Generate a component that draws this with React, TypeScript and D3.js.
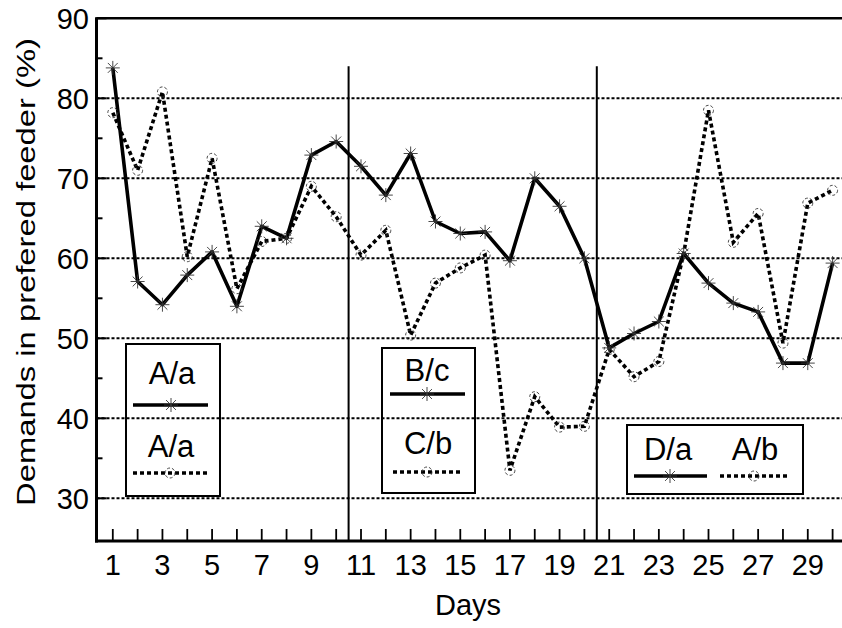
import React from 'react';
import * as d3 from 'd3';

// days 1..30
const DAYS = d3.range(1, 31);
// solid line with asterisks
const SOLID = [
  83.8, 57.1, 54.2, 57.9, 60.8, 54.0, 64.0, 62.5, 72.9, 74.6,
  71.5, 67.9, 73.1, 64.6, 63.1, 63.3, 59.7, 70.0, 66.5, 60.0,
  48.8, 50.6, 52.1, 60.6, 56.9, 54.4, 53.3, 46.9, 46.9, 59.4,
];
// dotted line with circles
const DOTTED = [
  78.2, 71.0, 80.8, 60.2, 72.5, 56.2, 62.1, 62.5, 69.0, 65.2,
  60.4, 63.5, 50.4, 56.9, 58.8, 60.4, 33.5, 42.7, 38.9, 39.0,
  48.6, 45.2, 47.1, 60.6, 78.5, 62.0, 65.6, 49.4, 66.9, 68.5,
];
const Y_MAJOR = [30, 40, 50, 60, 70, 80, 90];
const Y_MINOR = [35, 45, 55, 65, 75, 85];
const GRID = [30, 40, 50, 60, 70, 80];
const X_LABELS = [1, 3, 5, 7, 9, 11, 13, 15, 17, 19, 21, 23, 25, 27, 29];
const SEPARATORS = [10.5, 20.5];
const SEP_TOP = 84;

const FONT = '"Liberation Sans", Arial, Helvetica, sans-serif';
const INK = '#000';

function Star({ cx, cy, r = 7 }: { cx: number; cy: number; r?: number }) {
  const d = [0, 45, 90, 135]
    .map(a => {
      const t = (a * Math.PI) / 180;
      const dx = Math.cos(t) * r, dy = Math.sin(t) * r;
      return `M${cx - dx},${cy - dy}L${cx + dx},${cy + dy}`;
    })
    .join('');
  return <path d={d} stroke="#333" strokeWidth={0.9} fill="none" />;
}

function Ring({ cx, cy, r = 5 }: { cx: number; cy: number; r?: number }) {
  return <circle cx={cx} cy={cy} r={r} fill="none" stroke="#333" strokeWidth={0.9} strokeDasharray="3 2" />;
}

export default function App() {
  const W = 842, H = 628;
  const x = d3.scaleLinear().domain([1, 30]).range([112.8, 832.6]);
  const y = d3.scaleLinear().domain([30, 90]).range([498.3, 18.3]);
  const left = 96.5, bottom = 541, top = y(90), right = 843;

  const line = d3.line<number>().x((_, i) => x(DAYS[i])).y(v => y(v));

  const legendText = { fontFamily: FONT, fontSize: 31, textAnchor: 'middle' as const };

  return (
    <svg width={W} height={H} style={{ position: 'absolute', left: 0, top: 0, display: 'block', background: '#fff' }}>
      <rect width={W} height={H} fill="#fff" />

      {/* grid */}
      {GRID.map(v => (
        <line key={v} x1={left} x2={right} y1={y(v)} y2={y(v)} stroke={INK} strokeWidth={2} strokeDasharray="3 2" />
      ))}

      {/* separators */}
      {SEPARATORS.map(s => (
        <line key={s} x1={x(s)} x2={x(s)} y1={y(SEP_TOP)} y2={bottom} stroke={INK} strokeWidth={2} />
      ))}

      {/* axes frame */}
      <line x1={left} x2={right} y1={top} y2={top} stroke={INK} strokeWidth={2.5} />
      <line x1={left} x2={left} y1={top - 1} y2={bottom + 1.5} stroke={INK} strokeWidth={3} />
      <line x1={left - 1.5} x2={right} y1={bottom} y2={bottom} stroke={INK} strokeWidth={3} />

      {/* y ticks */}
      {Y_MAJOR.map(v => (
        <g key={v}>
          <line x1={left} x2={left + 10} y1={y(v)} y2={y(v)} stroke={INK} strokeWidth={2} />
          <text x={89} y={y(v)} dy="0.36em" textAnchor="end" fontFamily={FONT} fontSize={29}>{v}</text>
        </g>
      ))}
      {Y_MINOR.map(v => (
        <line key={v} x1={left} x2={left + 6} y1={y(v)} y2={y(v)} stroke={INK} strokeWidth={2} />
      ))}

      {/* x ticks */}
      {DAYS.map(d => (
        <line key={d} x1={x(d)} x2={x(d)} y1={bottom} y2={bottom - 12} stroke={INK} strokeWidth={1.8} />
      ))}
      {X_LABELS.map(d => (
        <text key={d} x={x(d)} y={575} textAnchor="middle" fontFamily={FONT} fontSize={29}>{d}</text>
      ))}

      {/* titles */}
      <text x={468} y={615} textAnchor="middle" fontFamily={FONT} fontSize={29}>Days</text>
      <text
        transform="translate(35,272) rotate(-90)"
        textAnchor="middle"
        fontFamily={FONT}
        fontSize={26}
        textLength={468}
        lengthAdjust="spacingAndGlyphs"
      >
        Demands in prefered feeder (%)
      </text>

      {/* series */}
      <path d={line(DOTTED) || ''} fill="none" stroke={INK} strokeWidth={3.6} strokeDasharray="4 3" />
      <path d={line(SOLID) || ''} fill="none" stroke={INK} strokeWidth={3.6} strokeLinejoin="round" />
      {DOTTED.map((v, i) => <Ring key={'c' + i} cx={x(DAYS[i])} cy={y(v)} />)}
      {SOLID.map((v, i) => <Star key={'s' + i} cx={x(DAYS[i])} cy={y(v)} />)}

      {/* legend 1 */}
      <rect x={126} y={344} width={94} height={152} fill="none" stroke={INK} strokeWidth={2} />
      <text x={172} y={384} {...legendText}>A/a</text>
      <line x1={133} x2={208} y1={405} y2={405} stroke={INK} strokeWidth={3.6} />
      <Star cx={171} cy={405} />
      <text x={171} y={457} {...legendText}>A/a</text>
      <line x1={133} x2={208} y1={473} y2={473} stroke={INK} strokeWidth={3.6} strokeDasharray="4 3" />
      <Ring cx={170} cy={473} />

      {/* legend 2 */}
      <rect x={382} y={348} width={93} height={145} fill="none" stroke={INK} strokeWidth={2} />
      <text x={427} y={381} {...legendText}>B/c</text>
      <line x1={390} x2={465} y1={394} y2={394} stroke={INK} strokeWidth={3.6} />
      <Star cx={427} cy={394} />
      <text x={428} y={454} {...legendText}>C/b</text>
      <line x1={393} x2={460} y1={472} y2={472} stroke={INK} strokeWidth={3.6} strokeDasharray="4 3" />
      <Ring cx={427} cy={472} />

      {/* legend 3 */}
      <rect x={627} y={425} width={176} height={69} fill="none" stroke={INK} strokeWidth={2} />
      <text x={668} y={460} {...legendText}>D/a</text>
      <text x={755} y={460} {...legendText}>A/b</text>
      <line x1={634} x2={707} y1={476} y2={476} stroke={INK} strokeWidth={3.6} />
      <Star cx={670} cy={476} />
      <line x1={720} x2={788} y1={476} y2={476} stroke={INK} strokeWidth={3.6} strokeDasharray="4 3" />
      <Ring cx={754} cy={476} />
    </svg>
  );
}
